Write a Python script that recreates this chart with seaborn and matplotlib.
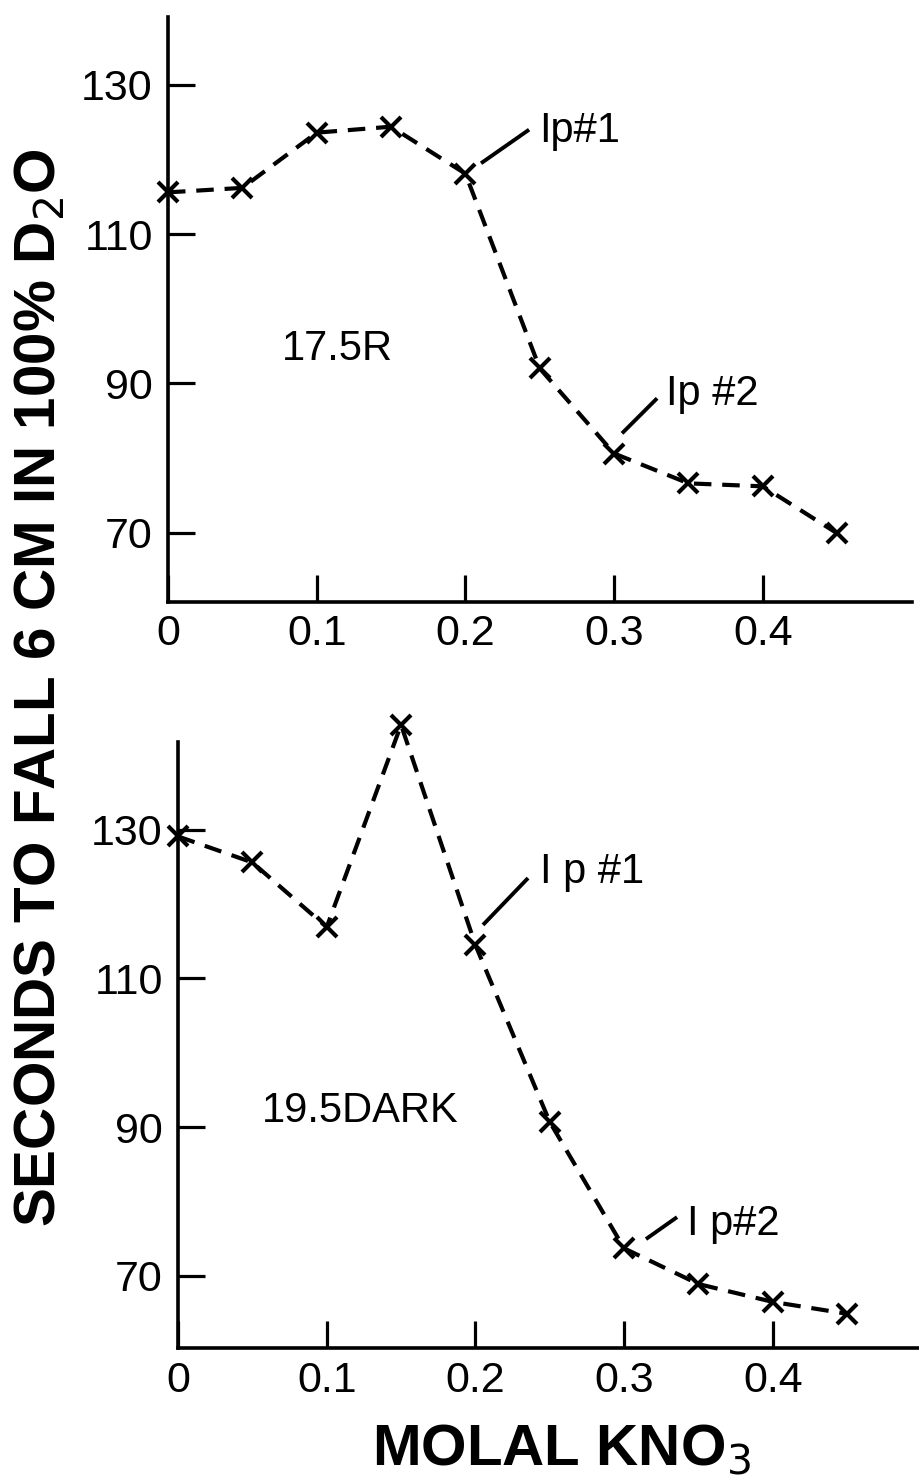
import matplotlib
matplotlib.use("Agg")
import matplotlib.pyplot as plt
import seaborn as sns
import pandas as pd

# Molal KNO3 concentrations (shared by both runs)
molal_kno3 = [0.0, 0.05, 0.10, 0.15, 0.20, 0.25, 0.30, 0.35, 0.40, 0.45]

# Seconds to fall 6 cm in 100% D2O
seconds_175r = [115.6, 116.2, 123.6, 124.4, 118.1, 92.0, 80.6, 76.6, 76.2, 69.9]
seconds_195dark = [129.1, 125.6, 116.9, 144.1, 114.5, 90.7, 73.7, 68.9, 66.5, 64.9]

y_ticks = [70, 90, 110, 130]
x_ticks = [0.0, 0.1, 0.2, 0.3, 0.4]
x_tick_labels = ["0", "0.1", "0.2", "0.3", "0.4"]
y_tick_labels = ["70", "90", "110", "130"]

panel_labels = ["17.5R", "19.5DARK"]

sns.set_style("ticks")
plt.rcParams["font.family"] = ["Liberation Sans", "DejaVu Sans"]
plt.rcParams["text.color"] = "black"

W, H = 919, 1482
fig = plt.figure(figsize=(W / 100, H / 100), dpi=100)


def px_axes(left, top, right, bottom):
    return fig.add_axes([left / W, 1 - bottom / H, (right - left) / W, (bottom - top) / H])


ax_top = px_axes(168, 17, 912, 602)
ax_bot = px_axes(178, 742, 919, 1348)

panels = [
    (ax_top, seconds_175r, (0, 0.5003), (60.7, 139.1)),
    (ax_bot, seconds_195dark, (0, 0.4983), (60.3, 141.8)),
]

for ax, secs, xlim, ylim in panels:
    df = pd.DataFrame({"molal": molal_kno3, "seconds": secs})
    sns.lineplot(data=df, x="molal", y="seconds", ax=ax, color="black",
                 marker="x", markersize=15, markeredgewidth=3.0,
                 markeredgecolor="black", markerfacecolor="black",
                 linewidth=3.0, clip_on=False)
    for ln in ax.lines:
        ln.set_linestyle((0, (4.2, 2.6)))
        ln.set_dash_capstyle("butt")
    ax.set_xlim(*xlim)
    ax.set_ylim(*ylim)
    ax.set_xticks(x_ticks)
    ax.set_xticklabels(x_tick_labels)
    ax.set_yticks(y_ticks)
    ax.set_yticklabels(y_tick_labels)
    ax.set_xlabel("")
    ax.set_ylabel("")
    sns.despine(ax=ax)
    for side in ("left", "bottom"):
        ax.spines[side].set_linewidth(2.6)
        ax.spines[side].set_color("black")
    ax.tick_params(axis="both", direction="in", length=19.5, width=2.3,
                   color="black", labelsize=31, labelcolor="black")
    ax.tick_params(axis="y", pad=11)
    ax.tick_params(axis="x", pad=9)
    ax.patch.set_alpha(0)

# Panel labels
ax_top.text(0.0767, 93.1, panel_labels[0], fontsize=30, va="baseline",
            ha="left", color="black")
ax_bot.text(0.0565, 90.7, panel_labels[1], fontsize=30, va="baseline",
            ha="left", color="black")

# Inflection point callouts
callouts = [
    (ax_top, (0.2105, 119.5), (0.2428, 124.0), (0.2495, 122.3), "Ip#1"),
    (ax_top, (0.3053, 83.3), (0.3289, 88.0), (0.335, 87.05), "Ip #2"),
    (ax_bot, (0.2051, 117.2), (0.2354, 123.5), (0.2434, 122.9), "I p #1"),
    (ax_bot, (0.3147, 74.95), (0.3356, 77.9), (0.3423, 75.5), "I p#2"),
]
for ax, p0, p1, tpos, label in callouts:
    ax.plot([p0[0], p1[0]], [p0[1], p1[1]], color="black", lw=2.8,
            solid_capstyle="butt")
    ax.text(tpos[0], tpos[1], label, fontsize=30, va="baseline", ha="left",
            color="black")

# Shared axis titles
fig.text(40 / W, 1 - 688 / H, "SECONDS TO FALL 6 CM IN 100% D$_2$O",
         rotation=90, ha="center", va="center", fontsize=42,
         fontweight="bold", color="black")
fig.text(561 / W, 1 - 1450 / H, "MOLAL KNO$_3$", ha="center", va="center",
         fontsize=42, fontweight="bold", color="black")

fig.savefig("out.png", dpi=100, facecolor="white")
